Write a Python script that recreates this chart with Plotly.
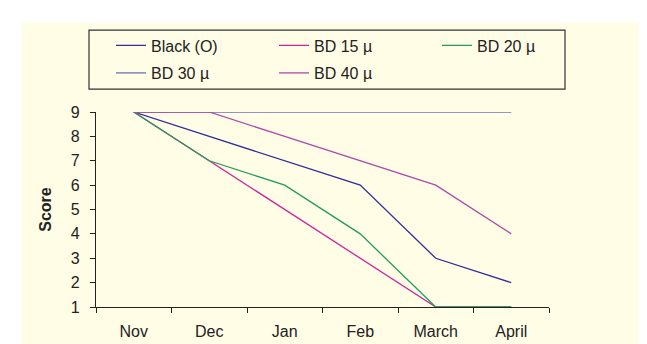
import plotly.graph_objects as go

months = ["Nov", "Dec", "Jan", "Feb", "March", "April"]
black_o = [9, 8, 7, 6, 3, 2]
bd15 = [9, 7, 5, 3, 1, 1]
bd20 = [9, 7, 6, 4, 1, 1]
bd30 = [9, 9, 9, 9, 9, 9]
bd40 = [9, 9, 8, 7, 6, 4]
y_ticks = [1, 2, 3, 4, 5, 6, 7, 8, 9]

W, H = 647, 344
L, R, T, B = 88, 106, 104, 35
PW, PH = W - L - R, H - T - B
CREAM = "#fffde6"
FONT = "Liberation Sans, Arial, sans-serif"
ENTRY = 118
ROW1_W = 3 * (ENTRY + 40) + 3 * 5


def px(x):
    return (x - L) / PW


def py(y):
    return (H - B - y) / PH


series = [
    ("Black (O)", black_o, "#2e2e9c", "legend"),
    ("BD 15 \u00b5", bd15, "#d0249c", "legend"),
    ("BD 20 \u00b5", bd20, "#1f9e5a", "legend"),
    ("BD 30 \u00b5", bd30, "#6a72b8", "legend2"),
    ("BD 40 \u00b5", bd40, "#b048a8", "legend2"),
]

fig = go.Figure()
for name, vals, col, lg in series:
    fig.add_trace(go.Scatter(x=months, y=vals, mode="lines", name=name,
                             line=dict(color=col, width=1.3), legend=lg))

legend_common = dict(orientation="h", bgcolor="rgba(0,0,0,0)", borderwidth=0,
                     font=dict(family=FONT, size=16, color="#222222"),
                     entrywidth=ENTRY, yanchor="middle",
                     xref="paper", yref="paper", itemclick=False)

fig.update_layout(
    width=W, height=H,
    margin=dict(l=L, r=R, t=T, b=B),
    paper_bgcolor="white", plot_bgcolor=CREAM,
    font=dict(family=FONT, size=16, color="#222222"),
    showlegend=True,
    legend=dict(legend_common, xanchor="right", x=px(103 + ROW1_W), y=py(34)),
    legend2=dict(legend_common, xanchor="left", x=px(103), y=py(63)),
    xaxis=dict(type="category", range=[-0.5, 5.5], tickson="boundaries",
               ticks="outside", ticklen=5, tickcolor="#222222",
               showline=True, linecolor="#222222", linewidth=1.3,
               showgrid=False, zeroline=False, ticklabelstandoff=10,
               tickfont=dict(size=16)),
    yaxis=dict(range=[1, 9], tickvals=y_ticks, ticks="outside", ticklen=5,
               tickcolor="#222222", showline=True, linecolor="#222222",
               linewidth=1.3, showgrid=False, zeroline=False,
               ticklabelstandoff=7, tickfont=dict(size=16),
               title=dict(text="<b>Score</b>", standoff=15,
                          font=dict(size=16))),
    shapes=[
        dict(type="rect", xref="paper", yref="paper", layer="below",
             x0=px(14), x1=px(W + 5), y0=py(H + 5), y1=py(10),
             fillcolor=CREAM, line=dict(width=0)),
        dict(type="rect", xref="paper", yref="paper", layer="above",
             x0=px(81), x1=px(557), y0=py(80), y1=py(18),
             fillcolor="rgba(0,0,0,0)", line=dict(color="#333333", width=1.2)),
    ],
)

fig.write_html("out.html")
